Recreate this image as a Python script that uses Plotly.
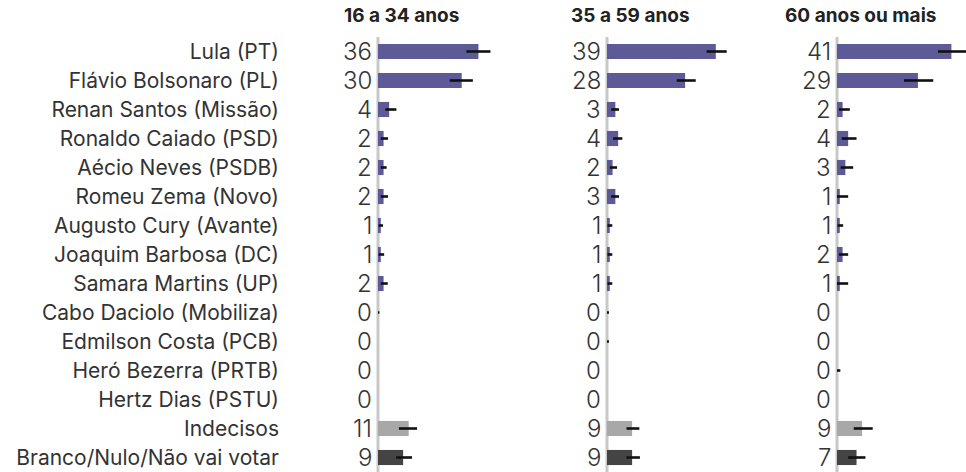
import plotly.graph_objects as go

categories = ["Lula (PT)", "Flávio Bolsonaro (PL)", "Renan Santos (Missão)", "Ronaldo Caiado (PSD)",
              "Aécio Neves (PSDB)", "Romeu Zema (Novo)", "Augusto Cury (Avante)", "Joaquim Barbosa (DC)",
              "Samara Martins (UP)", "Cabo Daciolo (Mobiliza)", "Edmilson Costa (PCB)", "Heró Bezerra (PRTB)",
              "Hertz Dias (PSTU)", "Indecisos", "Branco/Nulo/Não vai votar"]

panel_titles = ["16 a 34 anos", "35 a 59 anos", "60 anos ou mais"]

v_16_34 = [36, 30, 4, 2, 2, 2, 1, 1, 2, 0, 0, 0, 0, 11, 9]
v_35_59 = [39, 28, 3, 4, 2, 3, 1, 1, 1, 0, 0, 0, 0, 9, 9]
v_60 = [41, 29, 2, 4, 3, 1, 1, 2, 1, 0, 0, 0, 0, 9, 7]

err_plus_16_34 = [4.3, 4.0, 2.6, 1.6, 1.1, 1.6, 0.8, 1.2, 1.5, 0.5, 0, 0, 0, 3.0, 3.2]
err_minus_16_34 = [4.3, 4.3, 1.4, 1.0, 1.0, 1.0, 0.8, 0.8, 1.0, 0.0, 0, 0, 0, 3.5, 2.5]
err_plus_35_59 = [3.9, 3.8, 1.3, 1.5, 1.6, 1.3, 0.9, 0.9, 0.9, 0.7, 0.7, 0, 0, 2.6, 2.8]
err_minus_35_59 = [3.3, 3.0, 1.5, 1.8, 1.0, 1.5, 0.8, 0.8, 0.8, 0.0, 0.0, 0, 0, 2.0, 2.0]
err_plus_60 = [5.5, 5.5, 2.6, 3.0, 2.8, 3.0, 1.2, 2.0, 3.0, 0, 0, 1.2, 0, 3.8, 3.2]
err_minus_60 = [4.8, 5.0, 1.3, 2.3, 1.7, 1.0, 0.8, 1.3, 1.0, 0, 0, 0.0, 0, 3.0, 3.0]

PURPLE = "#5d5a97"
LIGHT = "#a8a8a8"
DARK = "#444444"
bar_colors = [PURPLE] * 13 + [LIGHT, DARK]

W, H = 966, 472
K = 2.79  # px per percentage point
zeros_px = [378, 607, 837]
ends_px = [560, 789, 966]
PAD = 4

values = [v_16_34, v_35_59, v_60]
eplus = [err_plus_16_34, err_plus_35_59, err_plus_60]
eminus = [err_minus_16_34, err_minus_35_59, err_minus_60]

FONT = "Inter"
fig = go.Figure()
layout_axes = {}
for i in range(3):
    xa = "x" if i == 0 else f"x{i+1}"
    xname = "xaxis" if i == 0 else f"xaxis{i+1}"
    fig.add_trace(go.Bar(
        y=categories, x=values[i], orientation="h", xaxis=xa, yaxis="y",
        marker=dict(color=bar_colors, line=dict(width=0)),
        error_x=dict(type="data", symmetric=False, array=eplus[i], arrayminus=eminus[i],
                     color="#111111", thickness=2.6, width=0),
        showlegend=False, hoverinfo="skip",
    ))
    for cat, v in zip(categories, values[i]):
        fig.add_annotation(text=str(v), xref=xa, yref="y", x=0, y=cat, xanchor="right",
                           yanchor="middle", xshift=-4, showarrow=False,
                           font=dict(family=FONT, size=24, color="#333333", weight=300))
    d0 = (zeros_px[i] - PAD) / W
    d1 = ends_px[i] / W
    layout_axes[xname] = dict(
        domain=[d0, d1], range=[-PAD / K, (ends_px[i] - zeros_px[i]) / K],
        showgrid=False, zeroline=False, showticklabels=False, ticks="",
        showline=False, fixedrange=True, anchor="y",
    )
    fig.add_shape(type="line", xref=xa, yref="paper", x0=0, x1=0, y0=0, y1=1,
                  line=dict(color="#c8c8c8", width=3), layer="below")
    fig.add_annotation(text=f"<b>{panel_titles[i]}</b>", xref=xa, yref="paper", x=0, y=1,
                       xshift=23, yshift=8, xanchor="center", yanchor="bottom", showarrow=False,
                       font=dict(family=FONT, size=19, color="#222222"))

fig.update_layout(
    width=W, height=H,
    margin=dict(l=0, r=0, t=37, b=0),
    plot_bgcolor="white", paper_bgcolor="white",
    bargap=0.48,
    font=dict(family=FONT, size=21, color="#333333"),
    yaxis=dict(type="category", categoryorder="array", categoryarray=categories,
               range=[14.5, -0.5], showgrid=False, zeroline=False, showline=False,
               ticks="", anchor="x", ticklabelstandoff=94,
               tickfont=dict(family=FONT, size=21, color="#333333"), fixedrange=True),
    **layout_axes,
)

fig.write_html("out.html", config={"displayModeBar": False},
               post_script="document.body.style.margin='0';document.body.style.overflow='hidden';")
